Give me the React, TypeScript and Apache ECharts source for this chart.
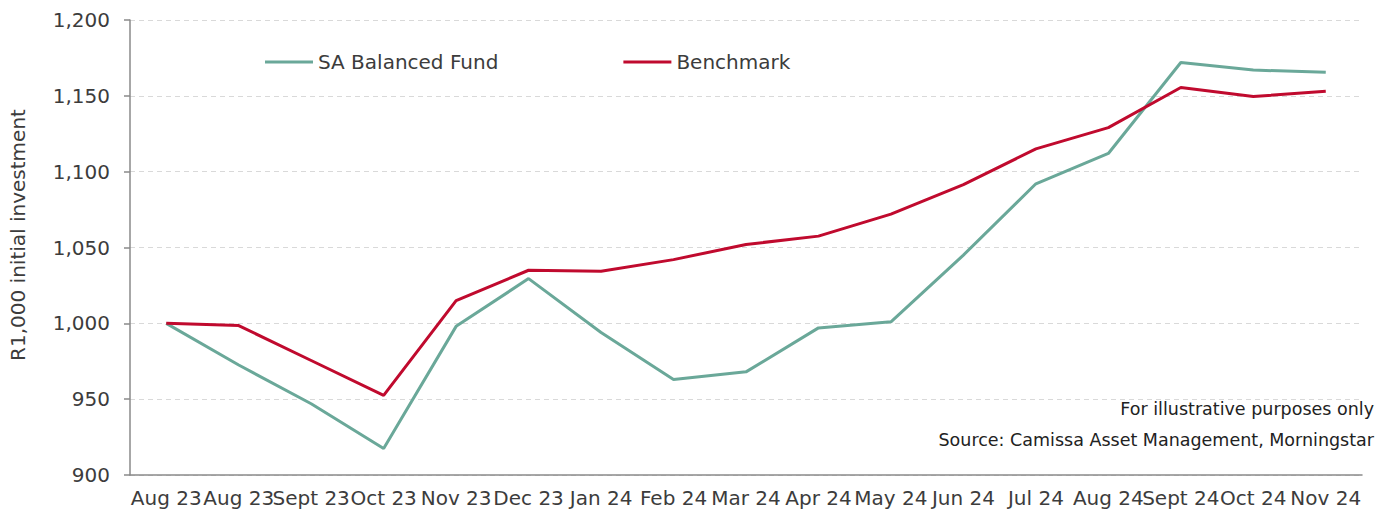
import React, { useEffect, useRef } from "react";
import * as echarts from "echarts";

const categories = [
  "Aug 23", "Aug 23", "Sept 23", "Oct 23", "Nov 23", "Dec 23", "Jan 24", "Feb 24",
  "Mar 24", "Apr 24", "May 24", "Jun 24", "Jul 24", "Aug 24", "Sept 24", "Oct 24", "Nov 24",
];
const fundValues = [
  1000, 972.5, 947, 917.5, 998, 1029.5, 994, 963, 968, 997, 1001, 1045, 1092, 1112, 1172, 1167, 1165.5,
];
const benchmarkValues = [
  1000, 998.5, 975.5, 952.5, 1015, 1035, 1034.3, 1042, 1052, 1057.5, 1072, 1091.5, 1115, 1129, 1155.5, 1149.5, 1153,
];
const seriesNames = ["SA Balanced Fund", "Benchmark"];
const yAxisTitle = "R1,000 initial investment";
const notes = ["For illustrative purposes only", "Source: Camissa Asset Management, Morningstar"];

const FONT = 'Verdana, "DejaVu Sans", sans-serif';
const TEXT = "#3c3c3c";
const GREEN = "#6aa899";
const RED = "#c00a2e";

export default function App() {
  const ref = useRef<HTMLDivElement>(null);
  useEffect(() => {
    if (!ref.current) return;
    const chart = echarts.init(ref.current, null, { renderer: "svg" });
    chart.setOption({
      animation: false,
      backgroundColor: "#ffffff",
      textStyle: { fontFamily: FONT },
      grid: { left: 130, right: 15, top: 20, bottom: 35, containLabel: false },
      legend: {
        left: 260,
        top: 47,
        icon: "rect",
        itemWidth: 48,
        itemHeight: 3,
        itemGap: 125,
        textStyle: { fontFamily: FONT, fontSize: 20, color: TEXT },
        data: seriesNames,
      },
      xAxis: {
        type: "category",
        data: categories,
        boundaryGap: true,
        axisLine: { lineStyle: { color: "#8a8a8a", width: 1.5 } },
        axisTick: { length: 7, lineStyle: { color: "#8a8a8a", width: 1.5 } },
        axisLabel: {
          interval: 0,
          hideOverlap: false,
          margin: 13,
          fontFamily: FONT,
          fontSize: 20,
          color: TEXT,
        },
      },
      yAxis: {
        type: "value",
        min: 900,
        max: 1200,
        interval: 50,
        axisLine: { show: true, lineStyle: { color: "#8a8a8a", width: 1.5 } },
        axisTick: { show: true, length: 6, lineStyle: { color: "#8a8a8a", width: 1.5 } },
        axisLabel: {
          margin: 20,
          fontFamily: FONT,
          fontSize: 20,
          color: TEXT,
          formatter: (v: number) => v.toLocaleString("en-US"),
        },
        splitLine: { lineStyle: { color: "#d9d9d9", type: [5, 4], width: 1 } },
      },
      graphic: [
        {
          type: "text",
          x: 18,
          y: 235,
          rotation: Math.PI / 2,
          style: {
            text: yAxisTitle,
            fontFamily: FONT,
            fontSize: 20,
            fill: TEXT,
            align: "center",
            verticalAlign: "middle",
          },
        },
        {
          type: "text",
          x: 1374,
          y: 409,
          style: {
            text: notes[0],
            fontFamily: FONT,
            fontSize: 17.5,
            fill: "#222",
            align: "right",
            verticalAlign: "middle",
          },
        },
        {
          type: "text",
          x: 1374,
          y: 440,
          style: {
            text: notes[1],
            fontFamily: FONT,
            fontSize: 17.5,
            fill: "#222",
            align: "right",
            verticalAlign: "middle",
          },
        },
      ],
      series: [
        {
          name: seriesNames[0],
          type: "line",
          data: fundValues,
          symbol: "none",
          lineStyle: { color: GREEN, width: 3 },
          itemStyle: { color: GREEN },
        },
        {
          name: seriesNames[1],
          type: "line",
          data: benchmarkValues,
          symbol: "none",
          lineStyle: { color: RED, width: 3 },
          itemStyle: { color: RED },
        },
      ],
    });
    return () => chart.dispose();
  }, []);
  return (
    <div
      ref={ref}
      style={{ position: "absolute", left: 0, top: 0, width: 1377, height: 510 }}
    />
  );
}
